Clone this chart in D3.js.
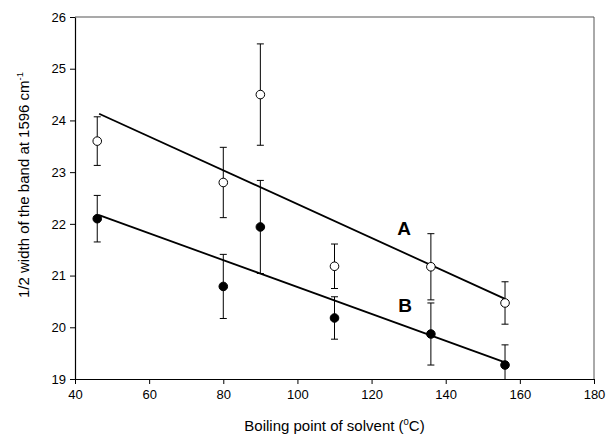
<!DOCTYPE html>
<html>
<head>
<meta charset="utf-8">
<script src="https://cdn.jsdelivr.net/npm/d3@7"></script>
<style>
  body { margin: 0; background: #fff; }
  text { font-family: Arial, "Liberation Sans", sans-serif; }
</style>
</head>
<body>
<svg id="chart" width="607" height="442"></svg>
<script>
// data
var boiling = [46, 80, 90, 110, 136, 156];
var widthA = [23.6, 22.8, 24.5, 21.18, 21.17, 20.47];
var errA = [0.47, 0.68, 0.98, 0.43, 0.64, 0.41];
var widthB = [22.1, 20.79, 21.94, 20.18, 19.87, 19.27];
var errB = [0.45, 0.62, 0.9, 0.41, 0.6, 0.39];
var fitX = [46.5, 156];
var fitA = [24.13, 20.55];
var fitB = [22.17, 19.32];
var xTicks = [40, 60, 80, 100, 120, 140, 160, 180];
var yTicks = [19, 20, 21, 22, 23, 24, 25, 26];

var svg = d3.select("#chart"),
	pL = 75, pR = 594, pT = 17, pB = 379,
	x = d3.scaleLinear().domain([40, 180]).range([pL, pR]),
	y = d3.scaleLinear().domain([19, 26]).range([pB, pT]);

svg.append("clipPath").attr("id", "plot")
	.append("rect")
	.attr("x", pL).attr("y", pT)
	.attr("width", pR - pL).attr("height", pB - pT);

// frame (top and right)
svg.append("line")
	.attr("x1", pL).attr("x2", pR).attr("y1", pT).attr("y2", pT)
	.attr("stroke", "#555").attr("stroke-width", 1.2);
svg.append("line")
	.attr("x1", pR).attr("x2", pR).attr("y1", pT).attr("y2", pB)
	.attr("stroke", "#555").attr("stroke-width", 1);

// axes
var xAxis = svg.append("g")
	.attr("transform", "translate(0," + pB + ")")
	.call(d3.axisBottom(x).tickValues(xTicks).tickFormat(d3.format("d"))
		.tickSize(5).tickPadding(6).tickSizeOuter(0));
var yAxis = svg.append("g")
	.attr("transform", "translate(" + pL + ",0)")
	.call(d3.axisLeft(y).tickValues(yTicks).tickFormat(d3.format("d"))
		.tickSize(5).tickPadding(4).tickSizeOuter(0));
[xAxis, yAxis].forEach(function(g) {
	g.attr("font-size", 13).attr("font-family", "Arial, 'Liberation Sans', sans-serif");
	g.select(".domain").attr("stroke", "#000").attr("stroke-width", 1.2);
	g.selectAll(".tick line").attr("stroke", "#000");
	g.selectAll(".tick text").attr("fill", "#000");
});

// axis titles
var xt = svg.append("text")
	.attr("x", (pL + pR) / 2).attr("y", 431)
	.attr("text-anchor", "middle").attr("font-size", 15);
xt.append("tspan").text("Boiling point of solvent (");
xt.append("tspan").text("0").attr("font-size", 9.5).attr("dy", -6);
xt.append("tspan").text("C)").attr("dy", 6);

var yt = svg.append("text")
	.attr("transform", "translate(29," + ((pT + pB) / 2 - 13) + ") rotate(-90)")
	.attr("text-anchor", "middle").attr("font-size", 15);
yt.append("tspan").text("1/2 width of the band at 1596 cm");
yt.append("tspan").text("-1").attr("font-size", 9.5).attr("dy", -6);

var plot = svg.append("g").attr("clip-path", "url(#plot)");

// fitted lines
var line = d3.line().x(function(d) { return x(d[0]); }).y(function(d) { return y(d[1]); });
[fitA, fitB].forEach(function(f) {
	plot.append("path")
		.datum(d3.zip(fitX, f))
		.attr("d", line)
		.attr("fill", "none").attr("stroke", "#000").attr("stroke-width", 1.8);
});

// error bars + markers
function drawSeries(vals, errs, fill) {
	var pts = d3.zip(boiling, vals, errs);
	var g = plot.append("g");
	g.selectAll("line.bar").data(pts).enter().append("line")
		.attr("x1", function(d) { return x(d[0]); })
		.attr("x2", function(d) { return x(d[0]); })
		.attr("y1", function(d) { return y(d[1] - d[2]); })
		.attr("y2", function(d) { return y(d[1] + d[2]); })
		.attr("stroke", "#000").attr("stroke-width", 1);
	[-1, 1].forEach(function(s) {
		g.selectAll(null).data(pts).enter().append("line")
			.attr("x1", function(d) { return x(d[0]) - 3.5; })
			.attr("x2", function(d) { return x(d[0]) + 3.5; })
			.attr("y1", function(d) { return y(d[1] + s * d[2]); })
			.attr("y2", function(d) { return y(d[1] + s * d[2]); })
			.attr("stroke", "#000").attr("stroke-width", 1);
	});
	g.selectAll("circle").data(pts).enter().append("circle")
		.attr("cx", function(d) { return x(d[0]); })
		.attr("cy", function(d) { return y(d[1]); })
		.attr("r", 4.3)
		.attr("fill", fill).attr("stroke", "#000").attr("stroke-width", 1);
}
drawSeries(widthA, errA, "#fff");
drawSeries(widthB, errB, "#000");

// series labels
svg.append("text").text("A").attr("x", 404).attr("y", 235)
	.attr("text-anchor", "middle").attr("font-size", 19).attr("font-weight", "bold");
svg.append("text").text("B").attr("x", 405).attr("y", 312)
	.attr("text-anchor", "middle").attr("font-size", 19).attr("font-weight", "bold");
</script>
</body>
</html>
